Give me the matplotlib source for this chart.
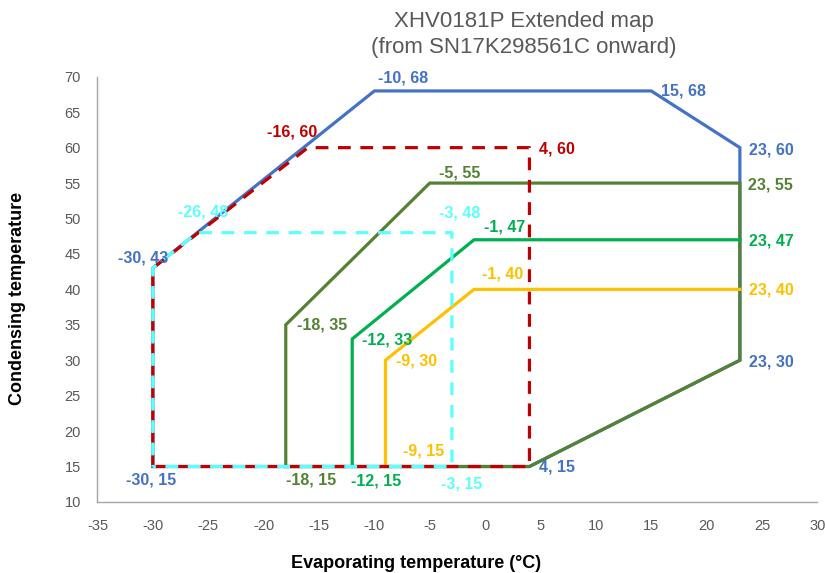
import matplotlib
matplotlib.use("Agg")
import matplotlib.pyplot as plt

plt.rcParams['font.family'] = ['Liberation Sans', 'DejaVu Sans']
plt.rcParams['axes.unicode_minus'] = False

# ---- data ----
blue_x = [-30, -30, -10, 15, 23, 23, 4, -30]
blue_y = [15, 43, 68, 68, 60, 30, 15, 15]
olive_x = [-18, -18, -5, 23, 23, 4, -18]
olive_y = [15, 35, 55, 55, 30, 15, 15]
green_x = [-12, -12, -1, 23]
green_y = [15, 33, 47, 47]
yellow_x = [-9, -9, -1, 23]
yellow_y = [15, 30, 40, 40]
red_x = [-30, -30, -16, 4, 4, -30]
red_y = [15, 43, 60, 60, 15, 15]
cyan_x = [-30, -30, -26, -3, -3, -30]
cyan_y = [15, 43, 48, 48, 15, 15]

x_ticks = list(range(-35, 31, 5))
y_ticks = list(range(10, 71, 5))

C_BLUE = '#4472C4'
C_OLIVE = '#548235'
C_GREEN = '#00B050'
C_YELLOW = '#FFC000'
C_RED = '#C00000'
C_CYAN = '#5CFFFF'

# labelled points: (x, y, color, dx_px, dy_px)
labels = [
    (-30, 15, C_BLUE, -2, -13),
    (-30, 43, C_BLUE, -10, 10),
    (-10, 68, C_BLUE, 29, 13),
    (15, 68, C_BLUE, 32, 0),
    (23, 60, C_BLUE, 31, -2),
    (23, 30, C_BLUE, 31, -2),
    (4, 15, C_BLUE, 28, 0),
    (23, 55, C_OLIVE, 31, -2),
    (-5, 55, C_OLIVE, 30, 10),
    (-18, 35, C_OLIVE, 36, 0),
    (-18, 15, C_OLIVE, 25, -13),
    (-1, 47, C_GREEN, 31, 13),
    (-12, 33, C_GREEN, 35, -1),
    (-12, 15, C_GREEN, 24, -14),
    (23, 47, C_GREEN, 31, -1),
    (-1, 40, C_YELLOW, 29, 15),
    (-9, 30, C_YELLOW, 31, -1),
    (-9, 15, C_YELLOW, 38, 16),
    (23, 40, C_YELLOW, 31, -1),
    (-16, 60, C_RED, -16, 16),
    (4, 60, C_RED, 28, -1),
    (-26, 48, C_CYAN, 6, 21),
    (-3, 48, C_CYAN, 8, 20),
    (-3, 15, C_CYAN, 10, -17),
]

fig = plt.figure(figsize=(8.26, 5.73), dpi=100)
ax = fig.add_axes([0.118, 0.124, 0.8716, 0.742])

lw = 2.3
ax.plot(blue_x, blue_y, color=C_BLUE, lw=lw, solid_joinstyle='miter')
ax.plot(olive_x, olive_y, color=C_OLIVE, lw=lw, solid_joinstyle='miter')
ax.plot(green_x, green_y, color=C_GREEN, lw=lw, solid_joinstyle='miter')
ax.plot(yellow_x, yellow_y, color=C_YELLOW, lw=lw, solid_joinstyle='miter')
ax.plot(red_x, red_y, color=C_RED, lw=lw, linestyle=(0, (4, 3)))
ax.plot(cyan_x, cyan_y, color=C_CYAN, lw=lw, linestyle=(3.5, (4, 3)))

for x, y, c, dx, dy in labels:
    ax.annotate(f"{x}, {y}", (x, y), xytext=(dx, dy), textcoords='offset pixels',
                ha='center', va='center', color=c, fontsize=11.5, fontweight='bold')

ax.set_xlim(-35, 30)
ax.set_ylim(10, 70)
ax.set_xticks(x_ticks)
ax.set_yticks(y_ticks)
ax.tick_params(length=0, labelsize=10.5, labelcolor='#595959', pad=12)
for s in ['top', 'right']:
    ax.spines[s].set_visible(False)
for s in ['left', 'bottom']:
    ax.spines[s].set_color('#A6A6A6')
    ax.spines[s].set_linewidth(1.0)

fig.text(524 / 826, 1 - 21 / 573, "XHV0181P Extended map", ha='center', va='center',
         fontsize=16, color='#595959')
fig.text(524 / 826, 1 - 48 / 573, "(from SN17K298561C onward)", ha='center', va='center',
         fontsize=16, color='#595959')
fig.text(416 / 826, 1 - 563 / 573, "Evaporating temperature (°C)", ha='center', va='center',
         fontsize=13, fontweight='bold', color='black')
fig.text(18 / 826, 1 - 298 / 573, "Condensing temperature", ha='center', va='center',
         rotation=90, fontsize=13, fontweight='bold', color='black')

fig.savefig("out.png", dpi=100)
